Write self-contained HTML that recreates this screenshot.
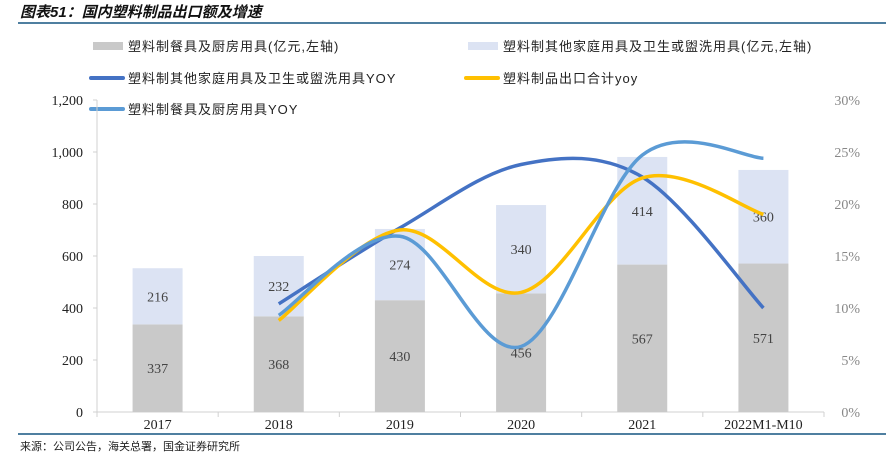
<!DOCTYPE html>
<html><head><meta charset="utf-8"><style>
body{margin:0;background:#fff;}
svg text{font-family:"Liberation Serif","Noto Serif CJK SC",serif;}
.cn{font-family:"Liberation Sans","Noto Sans CJK SC",sans-serif;}
</style></head><body>
<svg width="886" height="457" xmlns="http://www.w3.org/2000/svg">
<text x="20" y="17" class="cn" font-size="15" font-weight="bold" font-style="italic" fill="#111">图表51：国内塑料制品出口额及增速</text>
<rect x="18" y="22" width="868" height="2" fill="#4f7fa0"/>
<g id="legend"></g>
<g id="axes"></g>
<g id="bars"></g>
<g id="lines"></g>
<rect x="18" y="433" width="868" height="2" fill="#4f7fa0"/>
<text x="20" y="450" class="cn" font-size="11" fill="#222">来源：公司公告，海关总署，国金证券研究所</text>
</svg>
<script>
const categories=["2017","2018","2019","2020","2021","2022M1-M10"];
const kitchenValues=[337,368,430,456,567,571];
const otherValues=[216,232,274,340,414,360];
const otherYoy=[null,10.4,17.7,23.8,22.6,10.0];
const totalYoy=[null,8.8,17.5,11.5,22.5,19.0];
const kitchenYoy=[null,9.3,16.9,6.3,24.7,24.4];
const leftTicks=[0,200,400,600,800,1000,1200];
const rightTicks=[0,5,10,15,20,25,30];
const NS="http://www.w3.org/2000/svg";
const X0=97,X1=824,Y0=412,Y1=100;
const cw=(X1-X0)/categories.length;
const xc=i=>X0+cw*(i+0.5);
const yL=v=>Y0-(v/1200)*(Y0-Y1);
const yR=v=>Y0-(v/30)*(Y0-Y1);
function mk(tag,attrs,parent,txt){const e=document.createElementNS(NS,tag);for(const k in attrs)e.setAttribute(k,attrs[k]);if(txt!==undefined)e.textContent=txt;document.getElementById(parent).appendChild(e);return e;}
let e=mk('line',{x1:X0,y1:Y0,x2:X1,y2:Y0,stroke:'#d0d0d0'},'axes');


for(let i=0;i<=categories.length;i++){e=mk('line',{x1:X0+cw*i,y1:Y0,x2:X0+cw*i,y2:Y0+5,stroke:'#d0d0d0'},'axes');

}
e=mk('line',{x1:X0,y1:Y0,x2:X0,y2:Y1,stroke:'#d0d0d0'},'axes');


leftTicks.forEach(t=>{e=mk('text',{x:X0-14,y:yL(t)+5,'text-anchor':'end','font-size':14,fill:'#222'},'axes',t.toLocaleString('en-US'));


mk('line',{x1:X0-4,y1:yL(t),x2:X0,y2:yL(t),stroke:'#d0d0d0'},'axes');});
rightTicks.forEach(t=>{e=mk('text',{x:860,y:yR(t)+5,'text-anchor':'end','font-size':14,fill:'#888'},'axes',t+'%');

});
categories.forEach((c,i)=>{e=mk('text',{x:xc(i),y:429,'text-anchor':'middle','font-size':14,fill:'#222'},'axes',c);

});
const bw=50;
categories.forEach((c,i)=>{
 const a=kitchenValues[i],b=otherValues[i];
 e=mk('rect',{x:xc(i)-bw/2,y:yL(a),width:bw,height:Y0-yL(a),fill:'#c9c9c9'},'bars');
 
 
 e=mk('rect',{x:xc(i)-bw/2,y:yL(a+b),width:bw,height:yL(a)-yL(a+b),fill:'#dce3f3'},'bars');
 
 
 e=mk('text',{x:xc(i),y:(yL(a)+Y0)/2+5,'text-anchor':'middle','font-size':14,fill:'#444'},'bars',a);
 
 
 e=mk('text',{x:xc(i),y:(yL(a)+yL(a+b))/2+5,'text-anchor':'middle','font-size':14,fill:'#444'},'bars',b);
 
 
});
function smooth(vals){const p=[];vals.forEach((v,i)=>{if(v!==null)p.push([xc(i),yR(v)]);});
 let d='M'+p[0][0]+','+p[0][1];
 for(let i=0;i<p.length-1;i++){const p0=p[i-1]||p[i],p1=p[i],p2=p[i+1],p3=p[i+2]||p2;
  const t=1/6;const c1=[p1[0]+(p2[0]-p0[0])*t,p1[1]+(p2[1]-p0[1])*t],c2=[p2[0]-(p3[0]-p1[0])*t,p2[1]-(p3[1]-p1[1])*t];
  d+=` C${c1[0]},${c1[1]} ${c2[0]},${c2[1]} ${p2[0]},${p2[1]}`;}
 return d;}
[[otherYoy,'#4472c4','line-other-yoy'],[totalYoy,'#ffc000','line-total-yoy'],[kitchenYoy,'#5b9bd5','line-kitchen-yoy']].forEach(([v,c,n])=>{
 e=mk('path',{d:smooth(v),fill:'none',stroke:c,'stroke-width':3.5},'lines');
 
 
});
const leg=[['rect','#c9c9c9',93,46,'塑料制餐具及厨房用具(亿元,左轴)'],['rect','#dce3f3',468,46,'塑料制其他家庭用具及卫生或盥洗用具(亿元,左轴)'],['line','#4472c4',93,78,'塑料制其他家庭用具及卫生或盥洗用具YOY'],['line','#ffc000',468,78,'塑料制品出口合计yoy'],['line','#5b9bd5',93,109,'塑料制餐具及厨房用具YOY']];
leg.forEach(([k,c,x,y,t])=>{
 if(k==='rect')e=mk('rect',{x:x,y:y-4,width:30,height:8,fill:c},'legend');
 else e=mk('rect',{x:x-4,y:y-2,width:36,height:4,rx:2,fill:c},'legend');
 
 
 e=mk('text',{x:x+35,y:y+5,'font-size':13,fill:'#222',class:'cn','letter-spacing':1},'legend',t);
 
 
});
</script>
</body></html>
